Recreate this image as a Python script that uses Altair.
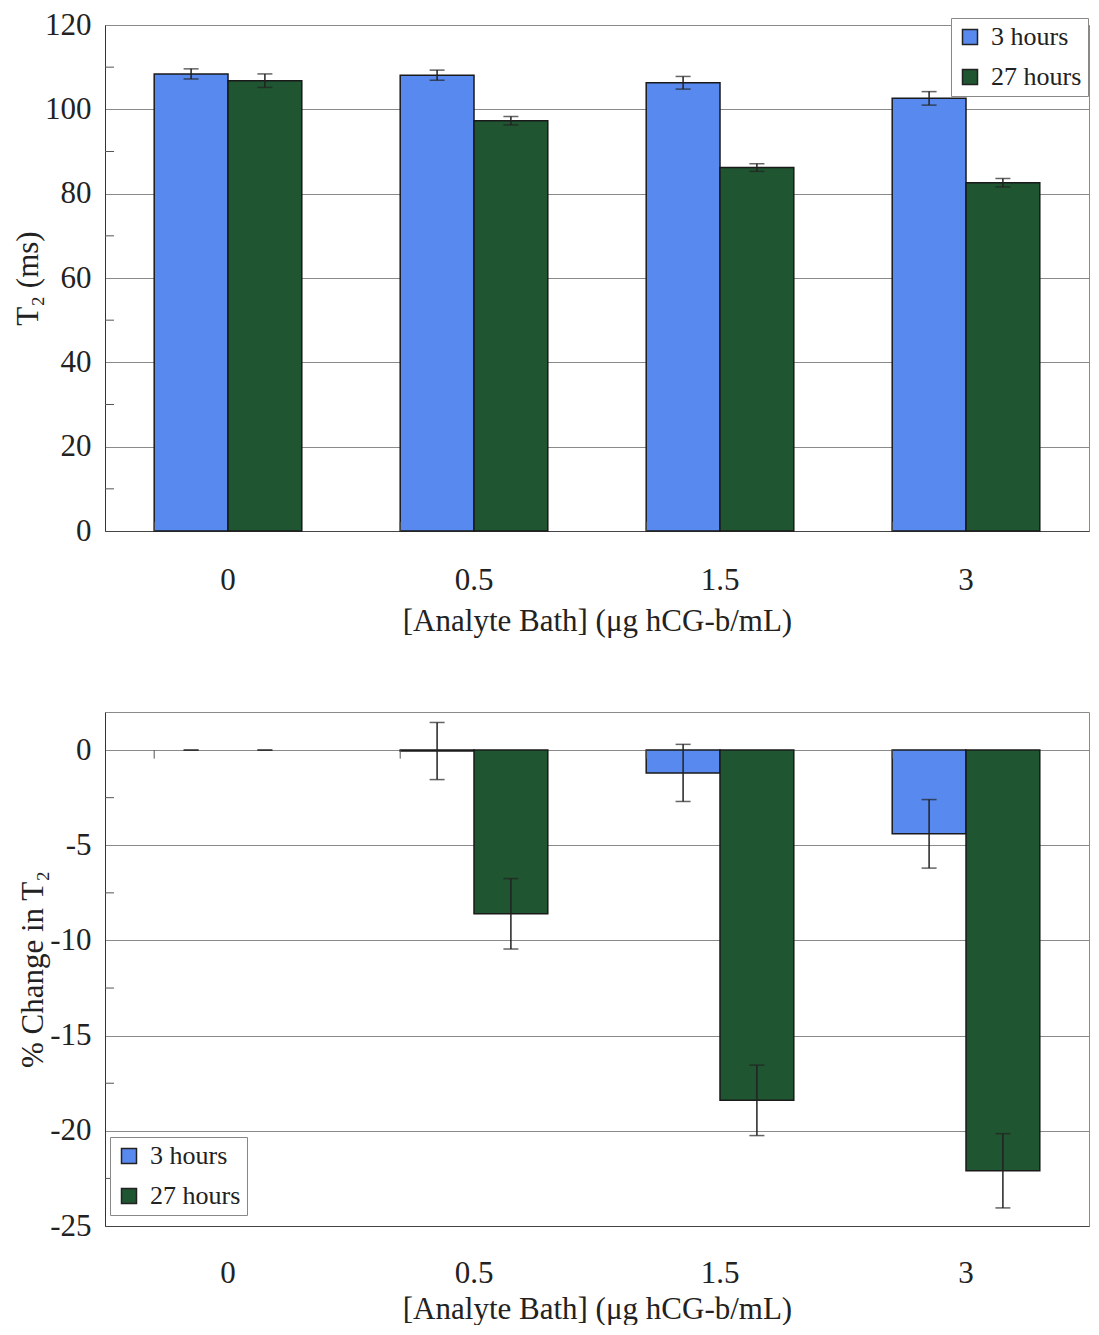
import altair as alt
import pandas as pd

FONT = "Liberation Serif"

categories = ["0", "0.5", "1.5", "3"]
series_names = ["3 hours", "27 hours"]
colors = ["#5789ee", "#1f5530"]

# Top panel: T2 (ms)
t2_3h = [108.4, 108.1, 106.3, 102.6]
t2_3h_err = [1.2, 1.2, 1.5, 1.6]
t2_27h = [106.8, 97.3, 86.2, 82.6]
t2_27h_err = [1.6, 1.0, 0.9, 1.0]
t2_major = [0, 20, 40, 60, 80, 100, 120]
t2_minor = [10, 30, 50, 70, 90, 110]

# Bottom panel: % change in T2
pct_3h = [0.0, -0.05, -1.2, -4.4]
pct_3h_err = [0.0, 1.5, 1.5, 1.8]
pct_27h = [0.0, -8.6, -18.4, -22.1]
pct_27h_err = [0.0, 1.85, 1.85, 1.95]
pct_major = [0, -5, -10, -15, -20, -25]
pct_minor = [-2.5, -7.5, -12.5, -17.5, -22.5]

XTITLE = "[Analyte Bath] (\u03bcg hCG-b/mL)"


def long_df(v3, e3, v27, e27):
    rows = []
    for i, c in enumerate(categories):
        for s, v, e in ((series_names[0], v3[i], e3[i]), (series_names[1], v27[i], e27[i])):
            rows.append({"cat": c, "series": s, "value": v, "lo": v - e, "hi": v + e, "err": e})
    return pd.DataFrame(rows)


def panel(df, minor, domain, major, ytitle, w, h, lx, ly, top_panel, xlabpad, xtitlepad):
    xscale = alt.Scale(domain=categories, paddingInner=0.4, paddingOuter=0.2)
    yscale = alt.Scale(domain=domain, nice=False, zero=False)
    xaxis = alt.Axis(
        title=XTITLE, labelAngle=0, ticks=False, domain=True, domainColor="#444",
        labelPadding=xlabpad, titlePadding=xtitlepad, labelFont=FONT, labelFontSize=31,
        titleFont=FONT, titleFontSize=31, titleFontWeight="normal",
        labelColor="#222", titleColor="#222", grid=False,
    )
    yaxis = alt.Axis(
        title=ytitle, values=major, grid=True, gridColor="#8a8a8a", gridWidth=1,
        ticks=False, domain=True, domainColor="#333", labelPadding=14,
        labelExpr="datum.value < 0 ? '-' + abs(datum.value) : '' + datum.value",
        labelFont=FONT, labelFontSize=31, labelColor="#222",
        titleFont=FONT, titleFontSize=31, titleFontWeight="normal", titleColor="#222",
        titlePadding=0,
    )
    X = alt.X("cat:N", scale=xscale, axis=xaxis, sort=categories)
    XO = alt.XOffset("series:N", sort=series_names,
                     scale=alt.Scale(domain=series_names, paddingInner=0, paddingOuter=0))
    base = alt.Chart(df)

    minor_ticks = alt.Chart(pd.DataFrame({"v": minor})).mark_rule(color="#555", strokeWidth=1).encode(
        y=alt.Y("v:Q", scale=yscale, axis=yaxis), x=alt.value(0), x2=alt.value(9)
    )
    bars = base.transform_filter("datum.value != 0").mark_bar(
        stroke="#1a1a1a", strokeWidth=1.5
    ).encode(
        x=X, xOffset=XO,
        y=alt.Y("value:Q", scale=yscale, axis=yaxis),
        color=alt.Color(
            "series:N", sort=series_names,
            scale=alt.Scale(domain=series_names, range=colors),
            legend=alt.Legend(
                title=None, orient="none", legendX=lx, legendY=ly,
                fillColor="white", strokeColor="#888", padding=6,
                symbolType="square", symbolSize=225, symbolStrokeColor="#222",
                symbolStrokeWidth=1.5, symbolOpacity=1,
                labelFont=FONT, labelFontSize=26, labelColor="#222",
                rowPadding=14, labelOffset=8,
            ),
        ),
    )
    err = base.transform_filter("datum.err > 0").mark_rule(color="#222", strokeWidth=1.5).encode(
        x=X, xOffset=XO, y=alt.Y("lo:Q", scale=yscale, axis=yaxis), y2="hi:Q"
    )
    cap_lo = base.mark_tick(color="#222", thickness=1.5, size=15).encode(
        x=X, xOffset=XO, y=alt.Y("lo:Q", scale=yscale, axis=yaxis)
    )
    cap_hi = base.mark_tick(color="#222", thickness=1.5, size=15).encode(
        x=X, xOffset=XO, y=alt.Y("hi:Q", scale=yscale, axis=yaxis)
    )
    bx = alt.X("cat:N", scale=xscale, sort=categories, bandPosition=0, axis=xaxis)
    cat_df = pd.DataFrame({"cat": categories})
    if top_panel:
        bticks = alt.Chart(cat_df).mark_rule(color="#555", strokeWidth=1).encode(
            x=bx, y=alt.value(h), y2=alt.value(h - 9)
        )
    else:
        bticks = alt.Chart(cat_df).mark_rule(color="#555", strokeWidth=1).encode(
            x=bx, y=alt.datum(0), y2=alt.datum(-0.45)
        )
    return alt.layer(minor_ticks, bars, err, cap_lo, cap_hi, bticks).properties(width=w, height=h)


top = panel(long_df(t2_3h, t2_3h_err, t2_27h, t2_27h_err), t2_minor, [0, 120], t2_major,
            "T\u2082 (ms)", 984, 506, 846, -7, True, 34, 11)
bottom = panel(long_df(pct_3h, pct_3h_err, pct_27h, pct_27h_err), pct_minor, [-25, 2], pct_major,
               "% Change in T\u2082", 984, 514, 5, 425, False, 32, 6)

chart = alt.vconcat(top, bottom, spacing=74).resolve_scale(
    x="independent", y="independent", color="independent", xOffset="independent"
).resolve_legend(color="independent").properties(
    padding={"left": 4, "top": 0, "right": 0, "bottom": 0}
).configure_view(stroke="#8a8a8a", strokeWidth=1)

chart.save("out.html", embed_options={"renderer": "svg", "actions": False})
